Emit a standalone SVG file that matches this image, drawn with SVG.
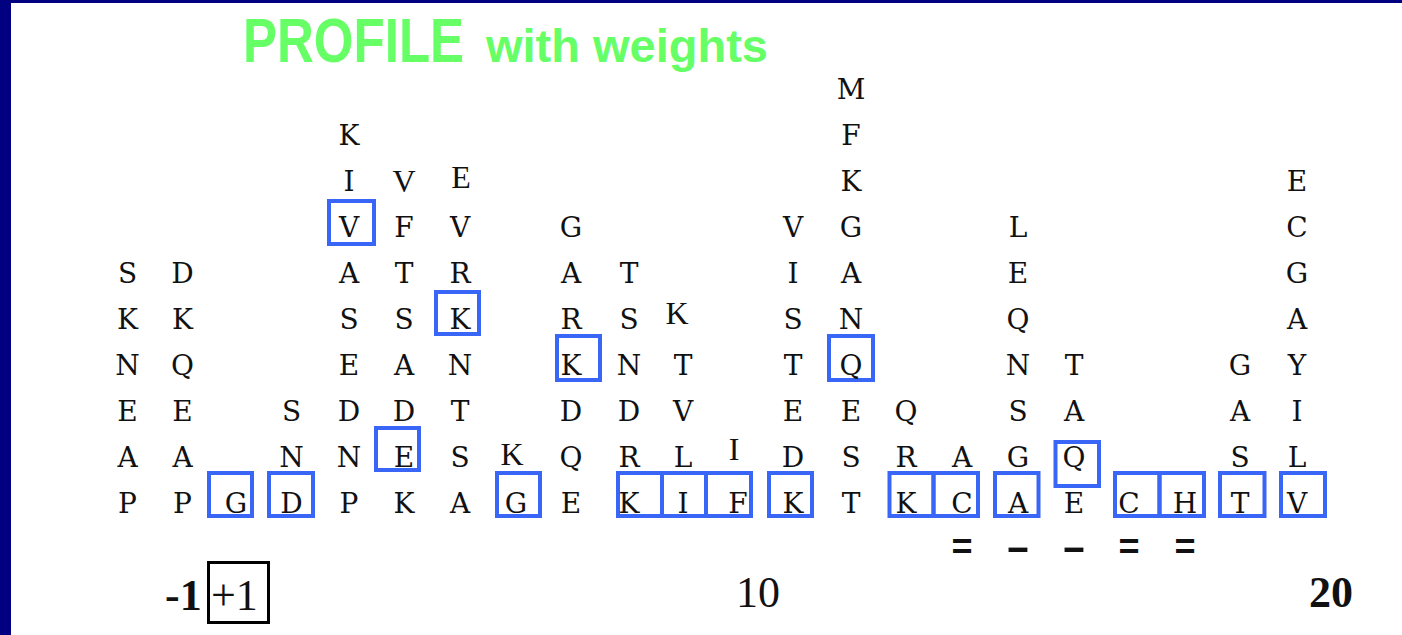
<svg xmlns="http://www.w3.org/2000/svg" width="1402" height="635" viewBox="0 0 1402 635">
<style>
.bg{fill:#ffffff}
.frame{fill:#000080}
.t1{font-family:"Liberation Sans",Arial,sans-serif;font-weight:bold;fill:#66ff66}
.aa{font-family:"DejaVu Serif","Liberation Serif",serif;font-size:28px;fill:#111;text-anchor:middle}
.thin{font-family:"Liberation Serif","Times New Roman",serif;font-size:32px;fill:#111;text-anchor:middle}
.mk{font-family:"Liberation Mono","Courier New",monospace;font-weight:bold;font-size:36px;fill:#111;text-anchor:middle}
.box{fill:none;stroke:#3a66f8;stroke-width:4}
.num{font-family:"Liberation Serif","Times New Roman",serif;font-size:44px;fill:#111}
.nb{font-weight:bold}
.kbox{fill:none;stroke:#000;stroke-width:3}
</style>
<rect class="bg" x="0" y="0" width="1402" height="635"/>
<rect class="frame" x="0" y="0" width="1402" height="3"/>
<rect class="frame" x="0" y="0" width="11" height="635"/>

<g id="title">
<text class="t1" transform="translate(243,62) scale(0.81,1)" x="0" y="0" font-size="63">PROFILE</text>
<text class="t1" transform="translate(486,62)" x="0" y="0" font-size="47">with weights</text>
</g>

<g id="col1">
<text class="aa" x="127.5" y="513">P</text>
<text class="aa" x="127.5" y="467">A</text>
<text class="aa" x="127.5" y="421">E</text>
<text class="aa" x="127.5" y="375">N</text>
<text class="aa" x="127.5" y="329">K</text>
<text class="aa" x="127.5" y="283">S</text>
</g>
<g id="col2">
<text class="aa" x="182.5" y="513">P</text>
<text class="aa" x="182.5" y="467">A</text>
<text class="aa" x="182.5" y="421">E</text>
<text class="aa" x="182.5" y="375">Q</text>
<text class="aa" x="182.5" y="329">K</text>
<text class="aa" x="182.5" y="283">D</text>
</g>
<g id="col3">
<rect class="box" x="209" y="473" width="43" height="43"/>
<text class="aa" x="236" y="513">G</text>
</g>
<g id="col4">
<rect class="box" x="269" y="473" width="44" height="43"/>
<text class="aa" x="291.5" y="513">D</text>
<text class="aa" x="291.5" y="467">N</text>
<text class="aa" x="291.5" y="421">S</text>
</g>
<g id="col5">
<rect class="box" x="329" y="201" width="45" height="43"/>
<text class="aa" x="349" y="513">P</text>
<text class="aa" x="349" y="467">N</text>
<text class="aa" x="349" y="421">D</text>
<text class="aa" x="349" y="375">E</text>
<text class="aa" x="349" y="329">S</text>
<text class="aa" x="349" y="283">A</text>
<text class="aa" x="349" y="237">V</text>
<text class="aa" x="349" y="191">I</text>
<text class="aa" x="349" y="145">K</text>
</g>
<g id="col6">
<rect class="box" x="376" y="428" width="43" height="42"/>
<text class="aa" x="404" y="513">K</text>
<text class="aa" x="404" y="467">E</text>
<text class="aa" x="404" y="421">D</text>
<text class="aa" x="404" y="375">A</text>
<text class="aa" x="404" y="329">S</text>
<text class="aa" x="404" y="283">T</text>
<text class="aa" x="404" y="237">F</text>
<text class="thin" x="404" y="192">V</text>
</g>
<g id="col7">
<rect class="box" x="436" y="292" width="43" height="42"/>
<text class="aa" x="460" y="513">A</text>
<text class="aa" x="460" y="467">S</text>
<text class="aa" x="460" y="421">T</text>
<text class="aa" x="460" y="375">N</text>
<text class="aa" x="460" y="329">K</text>
<text class="aa" x="460" y="283">R</text>
<text class="aa" x="460" y="237">V</text>
<text class="thin" x="461" y="188">E</text>
</g>
<g id="col8">
<rect class="box" x="497" y="473" width="43" height="43"/>
<text class="aa" x="516" y="513">G</text>
<text class="thin" x="512" y="465">K</text>
</g>
<g id="col9">
<rect class="box" x="557" y="336" width="43" height="44"/>
<text class="aa" x="571" y="513">E</text>
<text class="aa" x="571" y="467">Q</text>
<text class="aa" x="571" y="421">D</text>
<text class="aa" x="571" y="375">K</text>
<text class="aa" x="571" y="329">R</text>
<text class="aa" x="571" y="283">A</text>
<text class="aa" x="571" y="237">G</text>
</g>
<g id="col10">
<rect class="box" x="618" y="473" width="44" height="43"/>
<text class="aa" x="629" y="513">K</text>
<text class="aa" x="629" y="467">R</text>
<text class="aa" x="629" y="421">D</text>
<text class="aa" x="629" y="375">N</text>
<text class="aa" x="629" y="329">S</text>
<text class="aa" x="629" y="283">T</text>
</g>
<g id="col11">
<rect class="box" x="662" y="473" width="44" height="43"/>
<text class="aa" x="683" y="513">I</text>
<text class="aa" x="683" y="467">L</text>
<text class="aa" x="683" y="421">V</text>
<text class="aa" x="683" y="375">T</text>
<text class="thin" x="677" y="324">K</text>
</g>
<g id="col12">
<rect class="box" x="706" y="473" width="45" height="43"/>
<text class="aa" x="738" y="513">F</text>
<text class="thin" x="734" y="460">I</text>
</g>
<g id="col13">
<rect class="box" x="769" y="473" width="43" height="43"/>
<text class="aa" x="793" y="513">K</text>
<text class="aa" x="793" y="467">D</text>
<text class="aa" x="793" y="421">E</text>
<text class="aa" x="793" y="375">T</text>
<text class="aa" x="793" y="329">S</text>
<text class="aa" x="793" y="283">I</text>
<text class="aa" x="793" y="237">V</text>
</g>
<g id="col14">
<rect class="box" x="829" y="336" width="44" height="44"/>
<text class="aa" x="851" y="513">T</text>
<text class="aa" x="851" y="467">S</text>
<text class="aa" x="851" y="421">E</text>
<text class="aa" x="851" y="375">Q</text>
<text class="aa" x="851" y="329">N</text>
<text class="aa" x="851" y="283">A</text>
<text class="aa" x="851" y="237">G</text>
<text class="aa" x="851" y="191">K</text>
<text class="aa" x="851" y="145">F</text>
<text class="aa" x="851" y="99">M</text>
</g>
<g id="col15">
<rect class="box" x="889.5" y="473" width="44" height="43"/>
<text class="aa" x="906" y="513">K</text>
<text class="aa" x="906" y="467">R</text>
<text class="aa" x="906" y="421">Q</text>
</g>
<g id="col16">
<rect class="box" x="933.5" y="473" width="44.5" height="43"/>
<text class="aa" x="962" y="513">C</text>
<text class="aa" x="962" y="467">A</text>
<text class="mk" x="962" y="559">=</text>
</g>
<g id="col17">
<rect class="box" x="995" y="473" width="43.5" height="43"/>
<text class="aa" x="1018" y="513">A</text>
<text class="aa" x="1018" y="467">G</text>
<text class="aa" x="1018" y="421">S</text>
<text class="aa" x="1018" y="375">N</text>
<text class="aa" x="1018" y="329">Q</text>
<text class="aa" x="1018" y="283">E</text>
<text class="aa" x="1018" y="237">L</text>
<text class="mk" x="1018" y="559" textLength="40" lengthAdjust="spacingAndGlyphs">-</text>
</g>
<g id="col18">
<rect class="box" x="1055.5" y="442" width="43.5" height="44"/>
<text class="aa" x="1074" y="513">E</text>
<text class="aa" x="1074" y="467">Q</text>
<text class="aa" x="1074" y="421">A</text>
<text class="aa" x="1074" y="375">T</text>
<text class="mk" x="1074" y="559" textLength="40" lengthAdjust="spacingAndGlyphs">-</text>
</g>
<g id="col19">
<rect class="box" x="1115" y="473" width="44.5" height="43"/>
<text class="aa" x="1129" y="513">C</text>
<text class="mk" x="1129" y="559">=</text>
</g>
<g id="col20">
<rect class="box" x="1159.5" y="473" width="44.5" height="43"/>
<text class="aa" x="1185" y="513">H</text>
<text class="mk" x="1185" y="559">=</text>
</g>
<g id="col21">
<rect class="box" x="1220" y="473" width="44.5" height="43"/>
<text class="aa" x="1240" y="513">T</text>
<text class="aa" x="1240" y="467">S</text>
<text class="aa" x="1240" y="421">A</text>
<text class="aa" x="1240" y="375">G</text>
</g>
<g id="col22">
<rect class="box" x="1281" y="473" width="44" height="43"/>
<text class="aa" x="1297" y="513">V</text>
<text class="aa" x="1297" y="467">L</text>
<text class="aa" x="1297" y="421">I</text>
<text class="aa" x="1297" y="375">Y</text>
<text class="aa" x="1297" y="329">A</text>
<text class="aa" x="1297" y="283">G</text>
<text class="aa" x="1297" y="237">C</text>
<text class="aa" x="1297" y="191">E</text>
</g>

<g id="axis">
<text class="num nb" x="165" y="610">-1</text>
<rect class="kbox" x="208.5" y="562.5" width="60" height="60"/>
<text class="num" x="211" y="610">+1</text>
<text class="num" x="758" y="607" text-anchor="middle">10</text>
<text class="num nb" x="1331" y="607" text-anchor="middle">20</text>
</g>
<g id="connectors"></g>
</svg>
